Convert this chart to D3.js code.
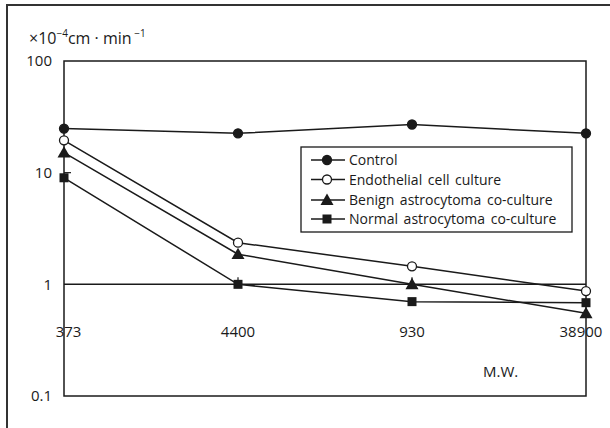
<!DOCTYPE html>
<html><head><meta charset="utf-8">
<script src="https://cdn.jsdelivr.net/npm/d3@7"></script>
<style>body{margin:0;background:#fff;} svg{display:block;}</style>
</head><body>
<svg id="c" width="610" height="428"></svg>
<script>
const categories = ["373", "4400", "930", "38900"];
const control = [24.8, 22.5, 27, 22.5];
const endothelial = [19.5, 2.36, 1.45, 0.87];
const benign = [15.1, 1.86, 1.0, 0.55];
const normal = [9.0, 1.0, 0.70, 0.685];
const seriesNames = ["Control", "Endothelial cell culture", "Benign astrocytoma co-culture", "Normal astrocytoma co-culture"];
const yTicks = [100, 10, 1, 0.1];
const yTickLabels = ["100", "10", "1", "0.1"];

const svg = d3.select("#c");
const font = "'Open Sans', sans-serif";
const ink = "#1a1a1a";
const L = 64, R = 586, T = 61, B = 396;

// outer frame
svg.append("rect").attr("x", 7).attr("y", 5).attr("width", 640).attr("height", 460)
  .attr("fill", "none").attr("stroke", "#333").attr("stroke-width", 2);

const x = d3.scalePoint().domain(categories).range([L, R]);
const y = d3.scaleLog().domain([0.1, 100]).range([B, T]);

// plot box
svg.append("rect").attr("x", L).attr("y", T).attr("width", R - L).attr("height", B - T)
  .attr("fill", "none").attr("stroke", ink).attr("stroke-width", 1.5);

// line at 1
svg.append("line").attr("x1", L).attr("x2", R).attr("y1", y(1)).attr("y2", y(1))
  .attr("stroke", ink).attr("stroke-width", 1.5);
// tick at 10
svg.append("line").attr("x1", L).attr("x2", L + 7).attr("y1", y(10)).attr("y2", y(10))
  .attr("stroke", ink).attr("stroke-width", 1.2);
// small ticks at categories on line 1
categories.slice(1, 3).forEach(c => {
  svg.append("line").attr("x1", x(c)).attr("x2", x(c)).attr("y1", y(1) - 7).attr("y2", y(1))
    .attr("stroke", ink).attr("stroke-width", 1.2);
});

// y tick labels
yTicks.forEach((t, i) => {
  svg.append("text").attr("x", 52).attr("y", y(t)).attr("dy", "0.36em")
    .attr("text-anchor", "end").attr("font-family", font).attr("font-size", 15)
    .attr("fill", ink).text(yTickLabels[i]);
});

// x labels
const xOff = [4.5, 0, 0, -5];
categories.forEach((c, i) => {
  svg.append("text").attr("x", x(c) + xOff[i]).attr("y", 332).attr("dy", "0.36em")
    .attr("text-anchor", "middle").attr("font-family", font).attr("font-size", 15)
    .attr("fill", ink).text(c);
});

svg.append("text").attr("x", 483).attr("y", 372).attr("dy", "0.36em")
  .attr("font-family", font).attr("font-size", 15).attr("fill", ink).text("M.W.");

// unit title
const ut = svg.append("text").attr("x", 29).attr("y", 44).attr("font-family", font)
  .attr("font-size", 16).attr("fill", ink);
ut.append("tspan").text("\u00d710");
ut.append("tspan").attr("font-size", 10).attr("dy", -7).text("\u2212");
ut.append("tspan").attr("font-size", 10).text("4");
ut.append("tspan").attr("dy", 7).text("cm \u00b7 min");
ut.append("tspan").attr("font-size", 10).attr("dy", -7).text(" \u2212");
ut.append("tspan").attr("font-size", 10).text("1");

// markers
function marker(g, type, cx, cy) {
  if (type === "circle" || type === "open") {
    g.append("circle").attr("cx", cx).attr("cy", cy).attr("r", 4.5)
      .attr("fill", type === "open" ? "#fff" : ink).attr("stroke", ink).attr("stroke-width", 1.3);
  } else if (type === "tri") {
    const s = 6.5;
    g.append("path").attr("d", `M${cx},${cy - s}L${cx + s},${cy + s * 0.75}L${cx - s},${cy + s * 0.75}Z`)
      .attr("fill", ink);
  } else {
    g.append("rect").attr("x", cx - 4.5).attr("y", cy - 4.5).attr("width", 9).attr("height", 9).attr("fill", ink);
  }
}

const series = [control, endothelial, benign, normal];
const types = ["circle", "open", "tri", "square"];
const line = d3.line().x((d, i) => x(categories[i])).y(d => y(d));
series.forEach((s, k) => {
  svg.append("path").attr("d", line(s)).attr("fill", "none").attr("stroke", ink).attr("stroke-width", 1.5);
});
series.forEach((s, k) => {
  const g = svg.append("g");
  s.forEach((v, i) => marker(g, types[k], x(categories[i]), y(v)));
});

// legend
svg.append("rect").attr("x", 301).attr("y", 147).attr("width", 271).attr("height", 85)
  .attr("fill", "#fff").attr("stroke", ink).attr("stroke-width", 1.3);
const ly = [160, 179.5, 200, 219];
seriesNames.forEach((n, i) => {
  svg.append("line").attr("x1", 311).attr("x2", 345).attr("y1", ly[i]).attr("y2", ly[i])
    .attr("stroke", ink).attr("stroke-width", 1.5);
  marker(svg, types[i], 327, ly[i]);
  svg.append("text").attr("x", 349).attr("y", ly[i]).attr("dy", "0.36em")
    .attr("font-family", font).attr("font-size", 14).attr("word-spacing", 2).attr("fill", ink).text(n);
});
</script>
</body></html>
